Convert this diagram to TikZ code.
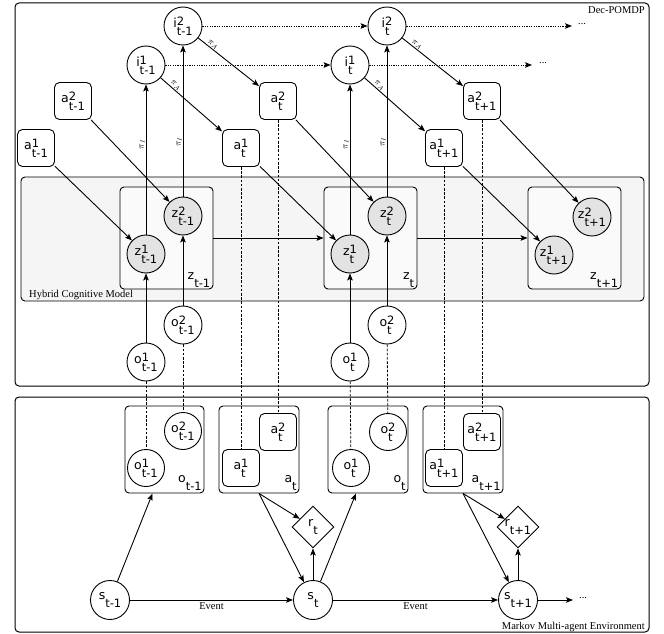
\documentclass[tikz,border=0pt]{standalone}
\usepackage{fontspec}
\setmainfont{DejaVu Sans}
\newfontfamily\serf{Liberation Serif}
\usetikzlibrary{arrows.meta,shapes.geometric}
\newcommand{\myscr}{\fontsize{11.5}{11.5}\selectfont}
\newcommand{\lbl}[3]{#1\sbox0{\myscr #2}\sbox2{\myscr #3}\rlap{\raisebox{2.3pt}{\usebox0}}\raisebox{-7.6pt}{\usebox2}\ifdim\wd0>\wd2 \kern\dimexpr\wd0-\wd2\relax\fi}
\newcommand{\lbs}[2]{#1\raisebox{-8pt}{\myscr #2}}
\begin{document}
\begin{tikzpicture}[x=1pt,y=-1pt,
 font=\fontsize{12.5}{13}\selectfont,
 lw/.style={line width=0.9pt},
 circ/.style={circle,draw,lw,minimum size=38pt,inner sep=0pt,fill=white},
 zc/.style={circ,fill=black!11},
 abox/.style={draw,lw,rounded corners=5pt,minimum width=37pt,minimum height=37pt,inner sep=0pt,fill=white},
 grp/.style={draw,lw,rounded corners=4pt,inner sep=0pt},
 dia/.style={diamond,draw,lw,minimum width=42pt,minimum height=42pt,inner sep=0pt,fill=white},
 arr/.style={lw,-{Stealth[length=7pt,width=5.5pt,inset=1.5pt]}},
 dsh/.style={line width=0.8pt,dash pattern=on 2.6pt off 1.6pt},
 dtt/.style={arr,dash pattern=on 1.2pt off 1.2pt},
 caption/.style={font=\serf\fontsize{10.5}{11}\selectfont,inner sep=0pt},
 pil/.style={sloped,font=\fontsize{9}{9}\selectfont,inner sep=1pt},
 cornerlab/.style={anchor=south east,inner sep=0pt}
]
\useasboundingbox (0,0) rectangle (664,634);
% outer frames
\node[grp,line width=1pt,minimum width=634pt,minimum height=383pt] (dec) at (332,194.5) {};
\node[grp,line width=1pt,minimum width=634pt,minimum height=235pt] (mkv) at (332,514.5) {};
\node[grp,fill=black!4,minimum width=623pt,minimum height=124pt] (hcm) at (332.5,239) {};
\node[caption,anchor=north east] (decl) at (645,6) {Dec-POMDP};
\node[caption,anchor=base west] (hcml) at (29,297) {Hybrid Cognitive Model};
\node[caption,anchor=base east] (mkvl) at (645,629) {Markov Multi-agent Environment};
% z groups
\node[grp,fill=black!2,minimum width=93pt,minimum height=102pt] (Ztm1) at (166.5,238) {};
\node[grp,fill=black!2,minimum width=93pt,minimum height=102pt] (Zt) at (370.5,238) {};
\node[grp,fill=black!2,minimum width=93pt,minimum height=102pt] (Ztp1) at (574.5,238) {};
\node[cornerlab] (zl1) at ([shift={(-3,-2)}]Ztm1.south east) {\lbs{z}{t-1}};
\node[cornerlab] (zl2) at ([shift={(-3,-2)}]Zt.south east) {\lbs{z}{t}};
\node[cornerlab] (zl3) at ([shift={(-3,-2)}]Ztp1.south east) {\lbs{z}{t+1}};
% bottom groups
\node[grp,minimum width=79pt,minimum height=87pt] (Otm1) at (164.5,449.5) {};
\node[grp,minimum width=80pt,minimum height=87pt] (At) at (259,449.5) {};
\node[grp,minimum width=80pt,minimum height=87pt] (Ot) at (368,449.5) {};
\node[grp,minimum width=80pt,minimum height=87pt] (Atp1) at (463,449.5) {};
\node[cornerlab] (ol1) at ([shift={(-2.5,-3)}]Otm1.south east) {\lbs{o}{t-1}};
\node[cornerlab] (al1) at ([shift={(-2.5,-3)}]At.south east) {\lbs{a}{t}};
\node[cornerlab] (ol2) at ([shift={(-2.5,-3)}]Ot.south east) {\lbs{o}{t}};
\node[cornerlab] (al2) at ([shift={(-2.5,-3)}]Atp1.south east) {\lbs{a}{t+1}};
% z nodes
\node[zc] (z1a) at (146,254) {\lbl{z}{1}{t-1}};
\node[zc] (z2a) at (183,216) {\lbl{z}{2}{t-1}};
\node[zc] (z1b) at (350,254) {\lbl{z}{1}{t}};
\node[zc] (z2b) at (387,216) {\lbl{z}{2}{t}};
\node[zc] (z1c) at (554,255) {\lbl{z}{1}{t+1}};
\node[zc] (z2c) at (592,217) {\lbl{z}{2}{t+1}};
% top o nodes
\node[circ] (o1a) at (146,362) {\lbl{o}{1}{t-1}};
\node[circ] (o2a) at (183,325) {\lbl{o}{2}{t-1}};
\node[circ] (o1b) at (350,362) {\lbl{o}{1}{t}};
\node[circ] (o2b) at (387,325) {\lbl{o}{2}{t}};
% i nodes
\node[circ] (i1a) at (146,65) {\lbl{i}{1}{t-1}};
\node[circ] (i2a) at (183,26) {\lbl{i}{2}{t-1}};
\node[circ] (i1b) at (350,65) {\lbl{i}{1}{t}};
\node[circ] (i2b) at (387,26) {\lbl{i}{2}{t}};
% top a nodes
\node[abox] (a1a) at (36,148) {\lbl{a}{1}{t-1}};
\node[abox] (a2a) at (73,101) {\lbl{a}{2}{t-1}};
\node[abox] (a1b) at (241,148) {\lbl{a}{1}{t}};
\node[abox] (a2b) at (278,101) {\lbl{a}{2}{t}};
\node[abox] (a1c) at (444,148) {\lbl{a}{1}{t+1}};
\node[abox] (a2c) at (482,101) {\lbl{a}{2}{t+1}};
% bottom inner nodes
\node[circ,minimum size=37pt] (bo1a) at (146,468) {\lbl{o}{1}{t-1}};
\node[circ,minimum size=37pt] (bo2a) at (183,431) {\lbl{o}{2}{t-1}};
\node[abox] (ba1b) at (241,468) {\lbl{a}{1}{t}};
\node[abox] (ba2b) at (278,432) {\lbl{a}{2}{t}};
\node[circ,minimum size=37pt] (bo1b) at (351,468) {\lbl{o}{1}{t}};
\node[circ,minimum size=37pt] (bo2b) at (388,432) {\lbl{o}{2}{t}};
\node[abox] (ba1c) at (444,468) {\lbl{a}{1}{t+1}};
\node[abox] (ba2c) at (482,432) {\lbl{a}{2}{t+1}};
% states and rewards
\node[circ,minimum size=39pt] (sa) at (110,600) {\lbs{s}{t-1}};
\node[circ,minimum size=39pt] (sb) at (313,600) {\lbs{s}{t}};
\node[circ,minimum size=39pt] (sc) at (518,600) {\lbs{s}{t+1}};
\node[dia,label={[inner sep=0pt]center:\lbs{r}{t}}] (rb) at (313,527) {};
\node[dia,label={[inner sep=0pt]center:\lbs{r}{t+1}}] (rc) at (518,527) {};
% free ends and dots
\coordinate (e1) at (532,65);
\coordinate (e2) at (572,26);
\coordinate (e3) at (573,600);
\node[caption,anchor=west] (d1) at (539,63) {...};
\node[caption,anchor=west] (d2) at (578,24) {...};
\node[caption,anchor=west] (d3) at (579,598) {...};
% a -> z
\draw[arr] (a1a) -- (z1a);
\draw[arr] (a2a) -- (z2a);
\draw[arr] (a1b) -- (z1b);
\draw[arr] (a2b) -- (z2b);
\draw[arr] (a1c) -- (z1c);
\draw[arr] (a2c) -- (z2c);
% i -> a
\draw[arr] (i1a) -- node[pil,pos=0.2,above] {$\pi_A$} (a1b);
\draw[arr] (i2a) -- node[pil,pos=0.2,above] {$\pi_A$} (a2b);
\draw[arr] (i1b) -- node[pil,pos=0.2,above] {$\pi_A$} (a1c);
\draw[arr] (i2b) -- node[pil,pos=0.2,above] {$\pi_A$} (a2c);
% z -> i
\draw[arr] (z1a) -- node[pil,pos=0.6,above] {$\pi_I$} (i1a);
\draw[arr] (z2a) -- node[pil,pos=0.36,above] {$\pi_I$} (i2a);
\draw[arr] (z1b) -- node[pil,pos=0.6,above] {$\pi_I$} (i1b);
\draw[arr] (z2b) -- node[pil,pos=0.36,above] {$\pi_I$} (i2b);
% o -> z
\draw[arr] (o1a) -- (z1a);
\draw[arr] (o2a) -- (z2a);
\draw[arr] (o1b) -- (z1b);
\draw[arr] (o2b) -- (z2b);
% z group transitions
\draw[arr] (Ztm1.east) -- (Zt.west);
\draw[arr] (Zt.east) -- (Ztp1.west);
% dotted internal-state transitions
\draw[dtt] (i1a) -- (i1b);
\draw[dtt] (i2a) -- (i2b);
\draw[dtt] (i1b) -- (e1);
\draw[dtt] (i2b) -- (e2);
% dashed correspondences
\draw[dsh] (o1a) -- (bo1a);
\draw[dsh] (o2a) -- (bo2a);
\draw[dsh] (o1b) -- (bo1b);
\draw[dsh] (o2b) -- (bo2b);
\draw[dsh] (a1b) -- (ba1b);
\draw[dsh] (a2b) -- (ba2b);
\draw[dsh] (a1c) -- (ba1c);
\draw[dsh] (a2c) -- (ba2c);
% environment
\draw[arr] (sa) -- ([xshift=-12pt]Otm1.south);
\draw[arr] (sa) -- node[caption,below=2.5pt] {Event} (sb);
\draw[arr] (At.south) -- (rb);
\draw[arr] (At.south) -- (sb);
\draw[arr] (sb) -- (rb);
\draw[arr] (sb) -- ([xshift=-12pt]Ot.south);
\draw[arr] (sb) -- node[caption,below=2.5pt] {Event} (sc);
\draw[arr] (Atp1.south) -- (rc);
\draw[arr] (Atp1.south) -- (sc);
\draw[arr] (sc) -- (rc);
\draw[arr] (sc) -- (e3);
\end{tikzpicture}
\end{document}
